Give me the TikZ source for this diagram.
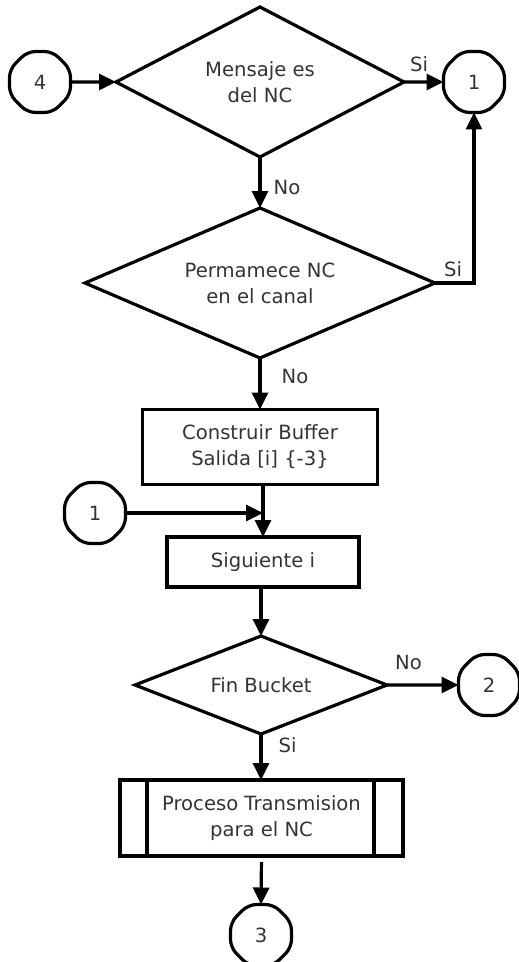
\documentclass[tikz,border=0pt]{standalone}
\usepackage{fontspec}
\setmainfont{DejaVu Sans}
\usetikzlibrary{shapes.geometric,arrows.meta,calc}

\tikzset{
  base/.style={draw=black, line width=3.2pt, outer sep=0pt, inner sep=2pt,
    text=black!80, align=center, font=\fontsize{19.6}{26}\selectfont},
  decision/.style={base, diamond},
  procbox/.style={base, rectangle},
  offpage/.style={base, regular polygon, regular polygon sides=8,
    minimum size=66pt, rounded corners=8pt},
  flow/.style={line width=3.2pt, -{Triangle[length=17pt,width=16pt]}},
  lbl/.style={text=black!80, font=\fontsize{19.6}{26}\selectfont, inner sep=0pt}
}

\begin{document}
\begin{tikzpicture}[x=1pt, y=-1pt]
  \useasboundingbox (0,0) rectangle (519,962);

  % decisions
  \node[decision, aspect=1.92, minimum width=288pt, minimum height=150pt] (d1) at (260,82)
    {Mensaje es\\del NC};
  \node[decision, aspect=2.33, minimum width=350pt, minimum height=150pt] (d2) at (260,283)
    {Permamece NC\\en el canal};
  \node[decision, aspect=2.57, minimum width=252pt, minimum height=98pt] (d3) at (261,685)
    {Fin Bucket};

  % process boxes
  \node[procbox, minimum width=235pt, minimum height=75pt] (b1) at (260,447)
    {Construir Buffer\\Salida [i] \{-3\}};
  \node[procbox, minimum width=192pt, minimum height=50pt] (b2) at (263,562)
    {Siguiente i};
  \node[procbox, minimum width=283pt, minimum height=76pt] (pp) at (261.5,818)
    {Proceso Transmision\\para el NC};
  \draw[line width=3.2pt] ($(pp.north west)+(27,0)$) -- ($(pp.south west)+(27,0)$);
  \draw[line width=3.2pt] ($(pp.north east)+(-29,0)$) -- ($(pp.south east)+(-29,0)$);

  % off-page connectors
  \node[offpage] (c4) at (40,82) {4};
  \node[offpage] (c1a) at (474,82) {1};
  \node[offpage] (c1b) at (95,513) {1};
  \node[offpage] (c2) at (489,685) {2};
  \node[offpage] (c3) at (261,935) {3};

  % connections
  \draw[flow] (c4.east) -- (d1.west);
  \draw[flow] (d1.east) -- (c1a.west) node[lbl, pos=0.38, above=9pt] {Si};
  \draw[flow] (d1.south) -- (d2.north) node[lbl, pos=0.6, right=12pt] {No};
  \draw[flow] (d2.east) -- (d2.east -| c1a.south) -- (c1a.south);
  \node[lbl] (siB) at (453,269) {Si};
  \draw[flow] (d2.south) -- (d2.south |- b1.north) node[lbl, pos=0.35, right=20pt] {No};
  \draw[flow] (b2.north |- b1.south) -- (b2.north);
  \draw[flow] (c1b.east) -- (c1b.east -| b2.north);
  \draw[flow] (b2.south -| d3.north) -- (d3.north);
  \draw[flow] (d3.east) -- (c2.west) node[lbl, pos=0.3, above=14pt] {No};
  \draw[flow] (d3.south) -- (d3.south |- pp.north) node[lbl, pos=0.25, right=16pt] {Si};
  \draw[flow, shorten <=6pt] (pp.south) -- (c3.north);
\end{tikzpicture}
\end{document}
